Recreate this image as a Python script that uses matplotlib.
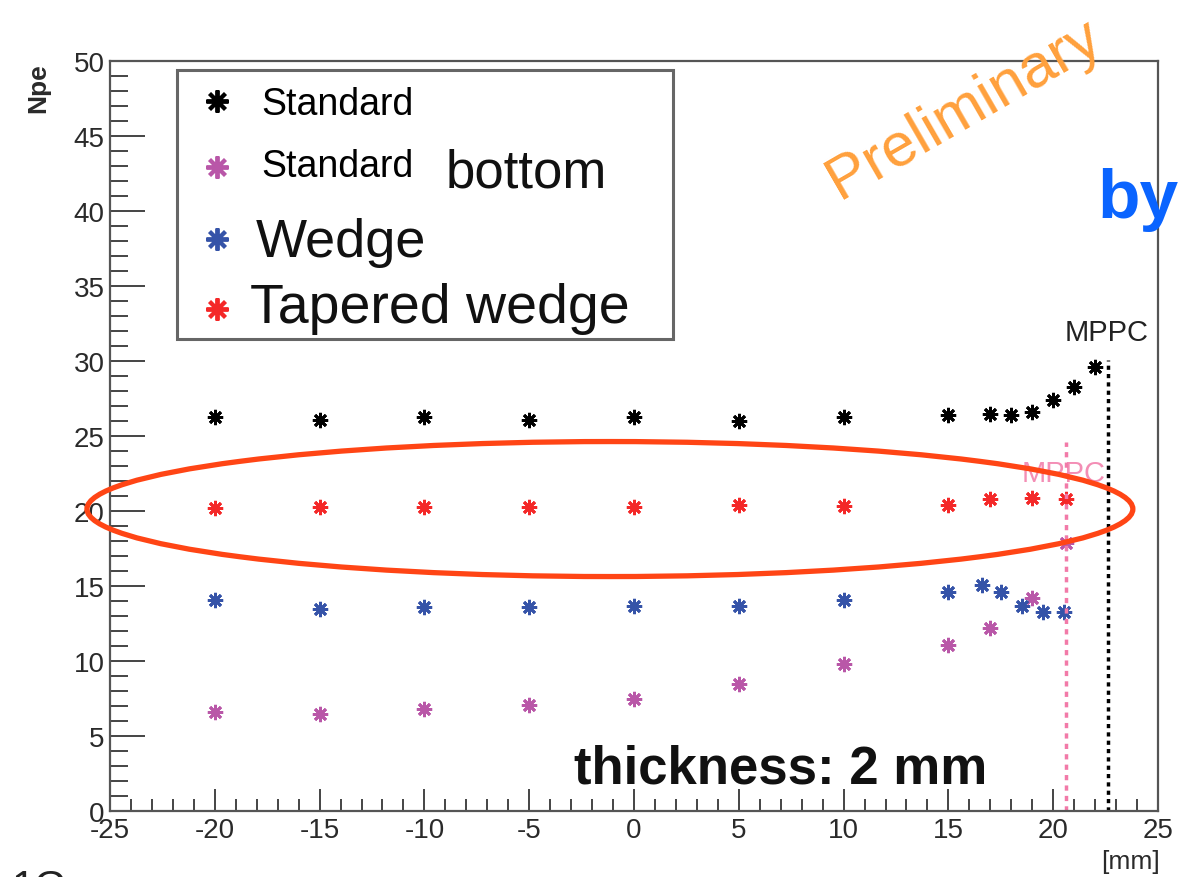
import matplotlib
matplotlib.use("Agg")
import matplotlib.pyplot as plt
from matplotlib.patches import Ellipse, Rectangle
from matplotlib.lines import Line2D
from matplotlib.ticker import MultipleLocator

plt.rcParams['font.family'] = ['Liberation Sans', 'DejaVu Sans']

# Npe vs position [mm], thickness 2 mm
x_std = [-20, -15, -10, -5, 0, 5, 10, 15, 17, 18, 19, 20, 21, 22]
y_std = [26.3, 26.1, 26.3, 26.1, 26.3, 26.0, 26.3, 26.4, 26.5, 26.4, 26.6, 27.4, 28.3, 29.6]

x_bot = [-20, -15, -10, -5, 0, 5, 10, 15, 17, 19, 20.6]
y_bot = [6.6, 6.5, 6.8, 7.05, 7.5, 8.5, 9.8, 11.1, 12.2, 14.2, 17.9]

x_wed = [-20, -15, -10, -5, 0, 5, 10, 15, 16.6, 17.5, 18.5, 19.5, 20.5]
y_wed = [14.1, 13.5, 13.6, 13.6, 13.7, 13.7, 14.1, 14.6, 15.1, 14.6, 13.7, 13.3, 13.3]

x_tap = [-20, -15, -10, -5, 0, 5, 10, 15, 17, 19, 20.6]
y_tap = [20.2, 20.3, 20.3, 20.3, 20.3, 20.4, 20.35, 20.4, 20.8, 20.9, 20.8]

mppc_std = (22.6, 30.1)
mppc_bot = (20.6, 24.6)

c_std = '#000000'
c_bot = '#b957a8'
c_wed = '#3553a8'
c_tap = '#f42828'
star = (8, 2, 0)

W, H = 1181, 878
fig = plt.figure(figsize=(W / 100, H / 100), dpi=100)
fig.patch.set_facecolor('white')

def fx(px):
    return px / W

def fy(py):
    return 1 - py / H

ax = fig.add_axes([fx(110), fy(812), 1048 / W, 750 / H])
ax.set_xlim(-25, 25)
ax.set_ylim(0, 50)

for xs, ys, c in [(x_std, y_std, c_std), (x_bot, y_bot, c_bot),
                  (x_wed, y_wed, c_wed), (x_tap, y_tap, c_tap)]:
    ax.plot(xs, ys, ls='none', marker=star, ms=11, mew=2.0, color=c)

# MPPC edges
ax.plot([mppc_std[0]] * 2, [0, mppc_std[1]], color='black', lw=2.5, ls=(0, (1.2, 1.2)))
ax.plot([mppc_bot[0]] * 2, [0, mppc_bot[1]], color='#f27aa8', lw=2.5, ls=(0, (1.5, 1.5)))
ax.text(mppc_std[0] - 0.05, 31.0, 'MPPC', fontsize=21, color='#222222', ha='center',
        va='bottom')
ax.text(mppc_bot[0] - 0.1, 21.6, 'MPPC', fontsize=21, color='#f27aa8', ha='center',
        va='bottom', alpha=0.85)

# highlight ellipse
ax.add_patch(Ellipse((-1.15, 20.13), 49.9, 9.0, fill=False, ec='#ff4515', lw=3.8,
                     clip_on=False, zorder=5))

# ROOT-like axis style
for s in ax.spines.values():
    s.set_color('#555555')
    s.set_linewidth(1.6)
ax.xaxis.set_major_locator(MultipleLocator(5))
ax.xaxis.set_minor_locator(MultipleLocator(1))
ax.yaxis.set_major_locator(MultipleLocator(5))
ax.yaxis.set_minor_locator(MultipleLocator(1))
ax.tick_params(axis='both', which='both', direction='in', color='#444444', width=1.4,
               labelsize=20, labelcolor='#2a2a2a', top=False, right=False)
ax.tick_params(axis='x', which='major', length=16, pad=4)
ax.tick_params(axis='x', which='minor', length=9)
ax.tick_params(axis='y', which='major', length=25, pad=4)
ax.tick_params(axis='y', which='minor', length=13)
ax.set_xticklabels([f'{v:g}' for v in ax.get_xticks()])
ax.set_yticklabels([f'{v:g}' for v in ax.get_yticks()])

fig.text(fx(38), fy(88), 'Npe', rotation=90, fontsize=19, fontweight='bold',
         ha='center', va='center', color='#2a2a2a')
fig.text(fx(1160), fy(862), '[mm]', fontsize=19, ha='right', va='center', color='#2a2a2a')

# legend box
fig.add_artist(Rectangle((fx(177), fy(340)), (673 - 177) / W, (340 - 71) / H,
                         transform=fig.transFigure, fill=True, fc='white',
                         ec='#666666', lw=2.2, zorder=6))
leg = [(102, c_std), (168, c_bot), (240, c_wed), (310, c_tap)]
for py, c in leg:
    fig.add_artist(Line2D([fx(217)], [fy(py)], transform=fig.transFigure, ls='none',
                          marker=star, ms=16, mew=2.8, color=c, zorder=7))
fig.text(fx(261), fy(115), 'Standard', fontsize=27, va='baseline', zorder=7)
fig.text(fx(261), fy(177), 'Standard', fontsize=27, va='baseline', zorder=7)
fig.text(fx(446), fy(188), 'bottom', fontsize=38, va='baseline', color='#111111', zorder=7)
fig.text(fx(256), fy(257), 'Wedge', fontsize=39, va='baseline', color='#111111', zorder=7)
fig.text(fx(250), fy(323), 'Tapered wedge', fontsize=40, va='baseline', color='#111111',
         zorder=7)

# annotations
fig.text(fx(964), fy(110), 'Preliminary', fontsize=44, color='#ffa03c', rotation=30,
         ha='center', va='center', rotation_mode='anchor')
fig.text(fx(1097), fy(218), 'by', fontsize=50, fontweight='bold', color='#0a64ff',
         va='baseline')
fig.text(fx(574), fy(784), 'thickness: 2 mm', fontsize=38, fontweight='bold',
         va='baseline', color='#111111')
fig.text(fx(12), fy(900), '1G', fontsize=30, va='baseline', color='#222222')

fig.savefig('out.png', dpi=100)
